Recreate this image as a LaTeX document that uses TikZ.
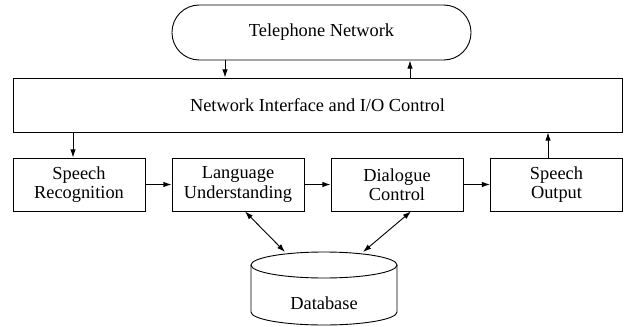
\documentclass[tikz,border=0pt]{standalone}
\usepackage{fontspec}
\setmainfont{Liberation Serif}
\usetikzlibrary{arrows.meta}
\tikzset{
  unit/.style  = {draw, line width=0.5pt, align=center, inner sep=0pt},
  blk/.style   = {unit, minimum width=72.6pt, minimum height=29.15pt},
  flow/.style  = {-{Latex[length=4.5pt,width=3pt]}, line width=0.5pt},
  both/.style  = {{Latex[length=4.5pt,width=3pt]}-{Latex[length=4.5pt,width=3pt]}, line width=0.5pt},
}

\begin{document}
\begin{tikzpicture}[x=0.55pt, y=-0.55pt, font=\fontsize{10.1}{10.5}\selectfont]
\useasboundingbox (0,0) rectangle (627,326);

% ── Top: network and interface ──────────────────────────────
\node[unit, rounded corners=15pt, minimum width=164.45pt, minimum height=30.25pt]
  (tel) at (321.5,32.5) {Telephone Network};
\node[unit, minimum width=334.95pt, minimum height=29.7pt]
  (io) at (317.5,105) {Network Interface and I/O Control};

% ── Row of processing stages ────────────────────────────────
\foreach \name/\xx/\txt in {%
    sr/79/{Speech\\Recognition}, lu/238/{Language\\Understanding},
    dc/397/{Dialogue\\Control}, so/556.5/{Speech\\Output}}{
  \node[blk] (\name) at (\xx,184.5) {\txt};
}

% ── Database cylinder ───────────────────────────────────────
\def\rx{40.15pt}
\def\ry{7.15pt}
\draw[line width=0.5pt] (324,265) ellipse [x radius=\rx, y radius=\ry];
\draw[line width=0.5pt] (251,265) -- (251,312)
  arc[start angle=180, end angle=360, x radius=\rx, y radius=\ry] -- (397,265);
\node (db) at (324,303) {Database};
\coordinate (dbl) at (285,252);
\coordinate (dbr) at (363,252);

% ── Connectors ──────────────────────────────────────────────
\coordinate (tdn) at (225,0);
\coordinate (tup) at (410,0);
\coordinate (idn) at (73,0);
\coordinate (iup) at (548,0);
\coordinate (lub) at (245,0);
\coordinate (dcb) at (411,0);
\draw[flow] (tel.south -| tdn) -- (io.north -| tdn);
\draw[flow] (io.north -| tup) -- (tel.south -| tup);
\draw[flow] (io.south -| idn) -- (sr.north -| idn);
\draw[flow] (so.north -| iup) -- (io.south -| iup);
\draw[flow] (sr) -- (lu);
\draw[flow] (lu) -- (dc);
\draw[flow] (dc) -- (so);
\draw[both] (lu.south -| lub) -- (dbl);
\draw[both] (dc.south -| dcb) -- (dbr);

\end{tikzpicture}
\end{document}
